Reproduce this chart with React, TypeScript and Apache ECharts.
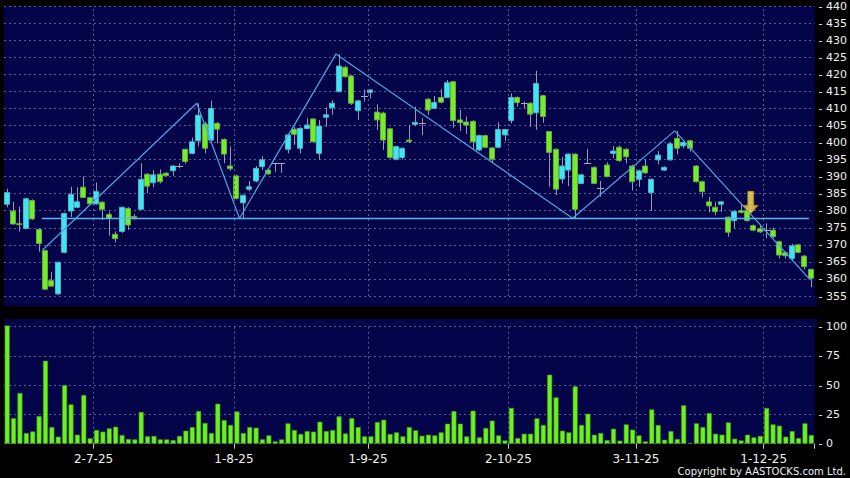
import React, { useEffect, useRef } from "react";
import * as echarts from "echarts";

// Trading days (HK) June 2025 .. December 2025
const junDays = [11, 12, 13, 16, 17, 18, 19, 20, 23, 24, 25, 26, 27, 30];
const julDays = [2, 3, 4, 7, 8, 9, 10, 11, 14, 15, 16, 17, 18, 21, 22, 23, 24, 25, 28, 29, 30, 31];
const augDays = [1, 4, 5, 6, 7, 8, 11, 12, 13, 14, 15, 18, 19, 20, 21, 22, 25, 26, 27, 28, 29];
const sepDays = [1, 2, 3, 4, 5, 8, 9, 10, 11, 12, 15, 16, 17, 18, 19, 22, 23, 24, 25, 26, 29, 30];
const octDays = [2, 3, 6, 8, 9, 10, 13, 14, 15, 16, 17, 20, 21, 22, 23, 24, 27, 28, 30, 31];
const novDays = [3, 4, 5, 6, 7, 10, 11, 12, 13, 14, 17, 18, 19, 20, 21, 24, 25, 26, 27, 28];
const decDays = [1, 2, 3, 4, 5, 8, 9, 10];

// [open, close, low, high]
const ohlc: number[][] = [
  [381.9, 385.3, 381.0, 386.4], [379.9, 376.1, 376.0, 382.6], [376.2, 376.0, 373.9, 381.2], [374.8, 383.5, 374.6, 383.7],
  [383.0, 377.6, 377.3, 383.3], [374.5, 370.4, 368.0, 374.8], [368.3, 357.0, 356.8, 368.5], [359.5, 357.9, 357.7, 362.1],
  [355.6, 364.9, 355.4, 365.0], [367.8, 379.2, 367.5, 379.5], [379.9, 384.8, 378.2, 387.0], [381.0, 382.6, 380.8, 386.9],
  [386.9, 383.9, 383.7, 390.0], [383.8, 382.0, 381.8, 384.0], [382.0, 385.6, 381.8, 388.3], [382.5, 380.4, 377.3, 382.7],
  [378.9, 377.8, 372.7, 379.7], [373.1, 371.8, 370.7, 373.9], [373.9, 381.0, 373.5, 381.2], [380.7, 375.8, 374.3, 381.0],
  [378.3, 378.0, 377.4, 379.0], [380.4, 389.2, 380.2, 393.9], [390.7, 387.2, 385.1, 391.0], [388.2, 390.5, 386.9, 391.9],
  [390.7, 388.5, 388.0, 392.1], [391.0, 390.3, 390.0, 391.3], [391.7, 393.1, 390.2, 393.3], [393.2, 393.2, 392.4, 393.9],
  [398.0, 394.4, 393.8, 398.2], [396.8, 400.2, 396.6, 401.4], [400.5, 408.0, 398.8, 411.5], [405.4, 398.3, 396.8, 406.0],
  [400.7, 410.0, 400.5, 412.2], [405.6, 403.9, 399.8, 406.0], [400.9, 396.6, 393.9, 401.2], [393.1, 392.3, 391.7, 398.8],
  [390.2, 383.6, 383.3, 390.5], [382.3, 384.5, 377.8, 384.8], [386.3, 387.0, 385.8, 388.7], [388.7, 392.4, 388.3, 393.1],
  [392.9, 394.9, 391.9, 396.0], [391.9, 390.8, 390.5, 392.2], [393.9, 393.9, 391.4, 394.1], [393.9, 393.9, 391.1, 394.0],
  [398.0, 402.2, 396.8, 402.5], [403.9, 402.4, 399.3, 404.6], [398.3, 404.1, 396.8, 404.5], [404.1, 405.1, 404.0, 407.1],
  [406.9, 400.2, 400.0, 407.0], [396.8, 404.8, 394.9, 406.6], [407.4, 408.1, 404.6, 410.3], [410.2, 411.5, 408.1, 412.4],
  [414.9, 422.4, 414.7, 425.9], [422.0, 419.3, 419.0, 422.5], [419.5, 411.5, 411.0, 419.7], [409.3, 412.2, 406.6, 412.5],
  [413.5, 413.5, 412.0, 415.5], [414.7, 415.4, 412.9, 415.5], [408.9, 406.6, 403.7, 411.2], [408.6, 400.7, 397.8, 409.0],
  [404.0, 395.6, 395.3, 404.3], [395.1, 398.8, 394.8, 399.0], [395.6, 398.3, 395.0, 398.5], [400.7, 400.2, 399.8, 405.1],
  [405.3, 405.9, 404.8, 410.5], [405.6, 405.6, 402.2, 407.1], [412.7, 409.5, 408.1, 413.0], [410.0, 411.7, 409.8, 413.6],
  [413.2, 411.8, 411.5, 415.6], [413.2, 417.5, 413.0, 418.3], [417.8, 406.4, 404.3, 418.0], [406.6, 405.8, 403.4, 409.5],
  [406.0, 405.1, 402.5, 407.6], [406.2, 400.2, 397.8, 406.5], [397.8, 402.0, 397.5, 402.3], [402.0, 398.6, 398.3, 402.3],
  [398.4, 395.1, 394.1, 398.6], [398.6, 403.8, 398.3, 405.9], [402.2, 403.8, 400.5, 404.0], [406.4, 413.2, 405.6, 414.4],
  [413.2, 411.7, 410.5, 413.5], [411.5, 411.5, 410.0, 412.0], [411.5, 408.3, 404.6, 411.8], [408.7, 417.3, 403.7, 421.0],
  [413.7, 407.6, 405.8, 414.0], [403.2, 397.1, 387.0, 403.4], [398.0, 386.3, 384.6, 398.2], [389.3, 393.1, 388.0, 395.8],
  [391.9, 396.6, 387.2, 396.8], [396.6, 380.4, 377.8, 396.8], [388.0, 390.5, 387.8, 390.8], [394.1, 394.1, 393.8, 398.1],
  [392.7, 388.0, 387.8, 393.0], [386.6, 386.6, 384.1, 388.7], [393.4, 390.0, 389.8, 394.2], [396.8, 397.5, 395.4, 399.0],
  [398.6, 394.7, 394.3, 399.1], [398.0, 395.8, 393.9, 398.3], [393.1, 388.5, 385.9, 393.5], [389.2, 391.7, 387.0, 392.0],
  [393.1, 391.1, 390.8, 395.1], [385.3, 389.2, 379.9, 389.5], [394.9, 396.3, 393.6, 397.5], [391.9, 392.7, 391.7, 393.0],
  [394.9, 399.6, 394.7, 400.0], [401.2, 398.3, 396.6, 403.4], [399.0, 400.0, 398.3, 400.3], [400.5, 398.3, 397.3, 400.8],
  [393.1, 388.5, 388.3, 393.3], [388.5, 385.6, 383.9, 388.8], [382.6, 381.4, 379.5, 384.1], [381.0, 379.7, 378.7, 382.6],
  [381.9, 382.6, 379.7, 382.8], [378.1, 373.7, 372.4, 378.3], [377.1, 379.8, 374.8, 380.0], [380.0, 379.5, 379.2, 382.1],
  [380.0, 377.1, 376.8, 380.8], [375.6, 374.3, 374.0, 376.0], [374.7, 373.8, 373.5, 375.6], [374.3, 374.3, 372.0, 376.3],
  [374.3, 372.4, 372.0, 375.0], [370.9, 367.0, 366.0, 371.2], [367.7, 366.8, 366.0, 368.0], [366.0, 369.7, 365.3, 370.3],
  [370.0, 367.8, 367.5, 370.2], [366.7, 363.6, 362.8, 367.0], [362.8, 360.2, 357.6, 363.0],
];

const volumes = [
  101, 21.9, 43.3, 9.1, 10.5, 23.6, 70.9, 14.2, 6.0, 50.1, 33.6, 7.7, 41.6, 4.6, 11.7, 10.3,
  13.1, 14.5, 7.4, 4.0, 3.7, 27.1, 6.3, 6.6, 3.7, 3.7, 3.1, 6.6, 11.1, 14.2, 27.9, 17.7,
  9.1, 34.2, 20.2, 16.0, 27.6, 9.1, 14.2, 13.7, 3.7, 7.1, 2.0, 3.7, 17.4, 11.7, 8.3, 10.8,
  10.3, 18.8, 10.8, 11.7, 23.4, 8.8, 21.9, 14.2, 6.3, 6.3, 18.5, 20.5, 8.3, 9.7, 6.3, 14.2,
  11.4, 6.8, 7.7, 7.1, 9.7, 17.1, 27.9, 17.1, 6.3, 28.2, 5.4, 13.4, 19.7, 7.1, 2.8, 30.5,
  4.8, 8.5, 8.5, 21.7, 16.0, 59.0, 39.6, 11.1, 9.7, 49.0, 16.0, 25.6, 7.7, 9.1, 3.1, 12.8,
  2.6, 16.5, 12.0, 7.1, 2.0, 29.3, 16.0, 3.4, 10.8, 4.0, 32.8, 0.6, 17.4, 14.2, 26.2, 8.5,
  7.7, 18.2, 4.3, 2.8, 7.7, 5.4, 6.6, 30.5, 16.5, 15.4, 6.0, 10.8, 4.8, 17.4, 7.4,
];

// Zig-zag pattern lines (x in day-slot units, y in price)
const trendX = [6.05, 30.2, 36.9, 52.0, 89.1, 105.1, 126.25];
const trendY = [368.5, 411.5, 377.8, 425.9, 377.8, 403.4, 359.9];
const necklineX = [5.94, 126.1];
const necklineY = 377.7;
const arrowPoint = [117.0, 382.4];

const priceMin = 355;
const priceMax = 440;
const priceStep = 5;
const volMax = 100;
const volStep = 25;

const months: [number, number[]][] = [
  [6, junDays], [7, julDays], [8, augDays], [9, sepDays], [10, octDays], [11, novDays], [12, decDays],
];
const categories: string[] = [];
const monthStartIdx: number[] = [];
months.forEach(([m, days]) => {
  if (m !== 6) monthStartIdx.push(categories.length);
  days.forEach((d) => categories.push(`${d}-${m}-25`));
});

const NAVY = "#030349";
const GRID = "#5c5c92";
const CYAN = "#3ce6f4";
const CYAN_EDGE = "#4fb3c2";
const GREEN = "#74ec2a";
const GREEN_EDGE = "#63ad3c";
const WICK = "#9a9aae";
const DOJI = "#a8a8bc";
const TREND = "#4aa6e4";
const TEXT = "#f0f0f0";
const FONT = "DejaVu Sans";

const renderCandle = (_params: any, api: any) => {
  const i = api.value(0);
  const o = api.value(1);
  const c = api.value(2);
  const l = api.value(3);
  const h = api.value(4);
  const pO = api.coord([i, o]);
  const pC = api.coord([i, c]);
  const pL = api.coord([i, l]);
  const pH = api.coord([i, h]);
  const R = Math.round(pO[0] - 0.5);
  const xw = R + 0.5;
  const top = Math.min(pO[1], pC[1]);
  const bot = Math.max(pO[1], pC[1]);
  const up = c > o;
  const flat = Math.abs(c - o) < 0.05;
  const children: any[] = [
    { type: "line", shape: { x1: xw, y1: pH[1], x2: xw, y2: pL[1] }, style: { stroke: WICK, lineWidth: 1 } },
  ];
  if (flat) {
    const yy = Math.round(pO[1]) + 0.5;
    children.push({ type: "line", shape: { x1: R - 3, y1: yy, x2: R + 4, y2: yy }, style: { stroke: DOJI, lineWidth: 1 } });
  } else {
    children.push({
      type: "rect",
      shape: { x: R - 2.5, y: top, width: 5, height: Math.max(bot - top, 1) },
      style: { fill: up ? CYAN : GREEN, stroke: up ? CYAN_EDGE : GREEN_EDGE, lineWidth: 1 },
    });
  }
  return { type: "group", children };
};

const isMonthStart = (idx: number) => monthStartIdx.indexOf(idx) >= 0;

const makeVLines = () => ({
  silent: true,
  symbol: ["none", "none"],
  label: { show: false },
  lineStyle: { color: GRID, type: [2, 3], width: 1 },
  data: monthStartIdx.map((v) => ({ xAxis: v })),
});

const option: any = {
  animation: false,
  backgroundColor: "#000000",
  grid: [
    { left: 4, top: 6, width: 813, height: 290, show: true, backgroundColor: NAVY, borderWidth: 0 },
    { left: 4, top: 326.7, width: 813, height: 117, show: true, backgroundColor: NAVY, borderWidth: 0 },
  ],
  graphic: [
    { type: "rect", z: -1, shape: { x: 4, y: 296, width: 813, height: 10 }, style: { fill: NAVY } },
    { type: "rect", z: -1, shape: { x: 4, y: 319, width: 813, height: 7.7 }, style: { fill: NAVY } },
    {
      type: "text",
      right: 4,
      top: 466,
      style: { text: "Copyright by AASTOCKS.com Ltd.", fill: TEXT, font: `10px "${FONT}"` },
    },
  ],
  xAxis: [
    {
      type: "category", gridIndex: 0, data: categories, boundaryGap: true,
      axisLine: { show: false }, axisTick: { show: false }, axisLabel: { show: false }, splitLine: { show: false },
    },
    {
      type: "category", gridIndex: 1, data: categories, boundaryGap: true,
      axisLine: { show: false },
      axisTick: { show: true, interval: (i: number) => isMonthStart(i), length: 5, lineStyle: { color: "#c8c8c8" } },
      axisLabel: {
        show: true, interval: (i: number) => isMonthStart(i), color: TEXT, fontSize: 12, fontFamily: FONT,
        margin: 9, padding: [0, 6, 0, 0],
      },
      splitLine: { show: false },
    },
    {
      type: "value", gridIndex: 0, position: "top", min: 0, max: categories.length,
      axisLine: { show: false }, axisTick: { show: false }, axisLabel: { show: false }, splitLine: { show: false },
    },
    {
      type: "value", gridIndex: 1, position: "top", min: 0, max: categories.length,
      axisLine: { show: false }, axisTick: { show: false }, axisLabel: { show: false }, splitLine: { show: false },
    },
  ],
  yAxis: [
    {
      type: "value", gridIndex: 0, position: "right", min: priceMin, max: priceMax, interval: priceStep,
      axisLine: { show: false }, axisTick: { show: false },
      axisLabel: { formatter: (v: number) => "- " + v, color: TEXT, fontSize: 11, fontFamily: FONT, margin: 4 },
      splitLine: { show: true, lineStyle: { color: GRID, type: [2, 3], width: 1 } },
    },
    {
      type: "value", gridIndex: 1, position: "right", min: 0, max: volMax, interval: volStep,
      axisLine: { show: false }, axisTick: { show: false },
      axisLabel: { formatter: (v: number) => "- " + v, color: TEXT, fontSize: 11, fontFamily: FONT, margin: 4 },
      splitLine: { show: true, lineStyle: { color: GRID, type: [2, 3], width: 1 } },
    },
  ],
  series: [
    {
      type: "line", xAxisIndex: 2, yAxisIndex: 0, z: 1, data: [], symbol: "none",
      markLine: makeVLines(),
    },
    {
      type: "line", xAxisIndex: 3, yAxisIndex: 1, z: 1, data: [], symbol: "none",
      markLine: makeVLines(),
    },
    {
      type: "custom", xAxisIndex: 0, yAxisIndex: 0, z: 3, clip: true,
      data: ohlc.map((d, i) => [i, d[0], d[1], d[2], d[3]]),
      encode: { x: 0, y: [1, 2, 3, 4] },
      renderItem: renderCandle,
    },
    {
      type: "line", xAxisIndex: 2, yAxisIndex: 0, z: 4, symbol: "none",
      data: trendX.map((x, i) => [x, trendY[i]]),
      lineStyle: { color: TREND, width: 1.2 },
    },
    {
      type: "line", xAxisIndex: 2, yAxisIndex: 0, z: 4, symbol: "none",
      data: necklineX.map((x) => [x, necklineY]),
      lineStyle: { color: "#5cb6ee", width: 1.6 },
    },
    {
      type: "scatter", xAxisIndex: 2, yAxisIndex: 0, z: 6,
      data: [arrowPoint],
      symbol: "path://M4.3 0L10 0L10 13.5L14.3 13.5L7.15 21.6L0 13.5L4.3 13.5Z",
      symbolSize: [15, 22.5],
      itemStyle: {
        color: new echarts.graphic.LinearGradient(0, 0, 1, 0, [
          { offset: 0, color: "#ffc21a" },
          { offset: 0.5, color: "#fff06a" },
          { offset: 1, color: "#ffb300" },
        ]),
        borderColor: "#d08a00",
        borderWidth: 0.8,
      },
    },
    {
      type: "bar", xAxisIndex: 1, yAxisIndex: 1, z: 3, clip: false,
      data: volumes, barWidth: 5,
      itemStyle: { color: "#6cf01e", borderColor: "#3f9a12", borderWidth: 0.6 },
    },
  ],
};

export default function App() {
  const ref = useRef<HTMLDivElement>(null);
  useEffect(() => {
    if (!ref.current) return;
    const chart = echarts.init(ref.current, undefined, { renderer: "svg" });
    chart.setOption(option);
    return () => chart.dispose();
  }, []);
  return (
    <div
      ref={ref}
      style={{ position: "fixed", left: 0, top: 0, width: 850, height: 478, background: "#000" }}
    />
  );
}
